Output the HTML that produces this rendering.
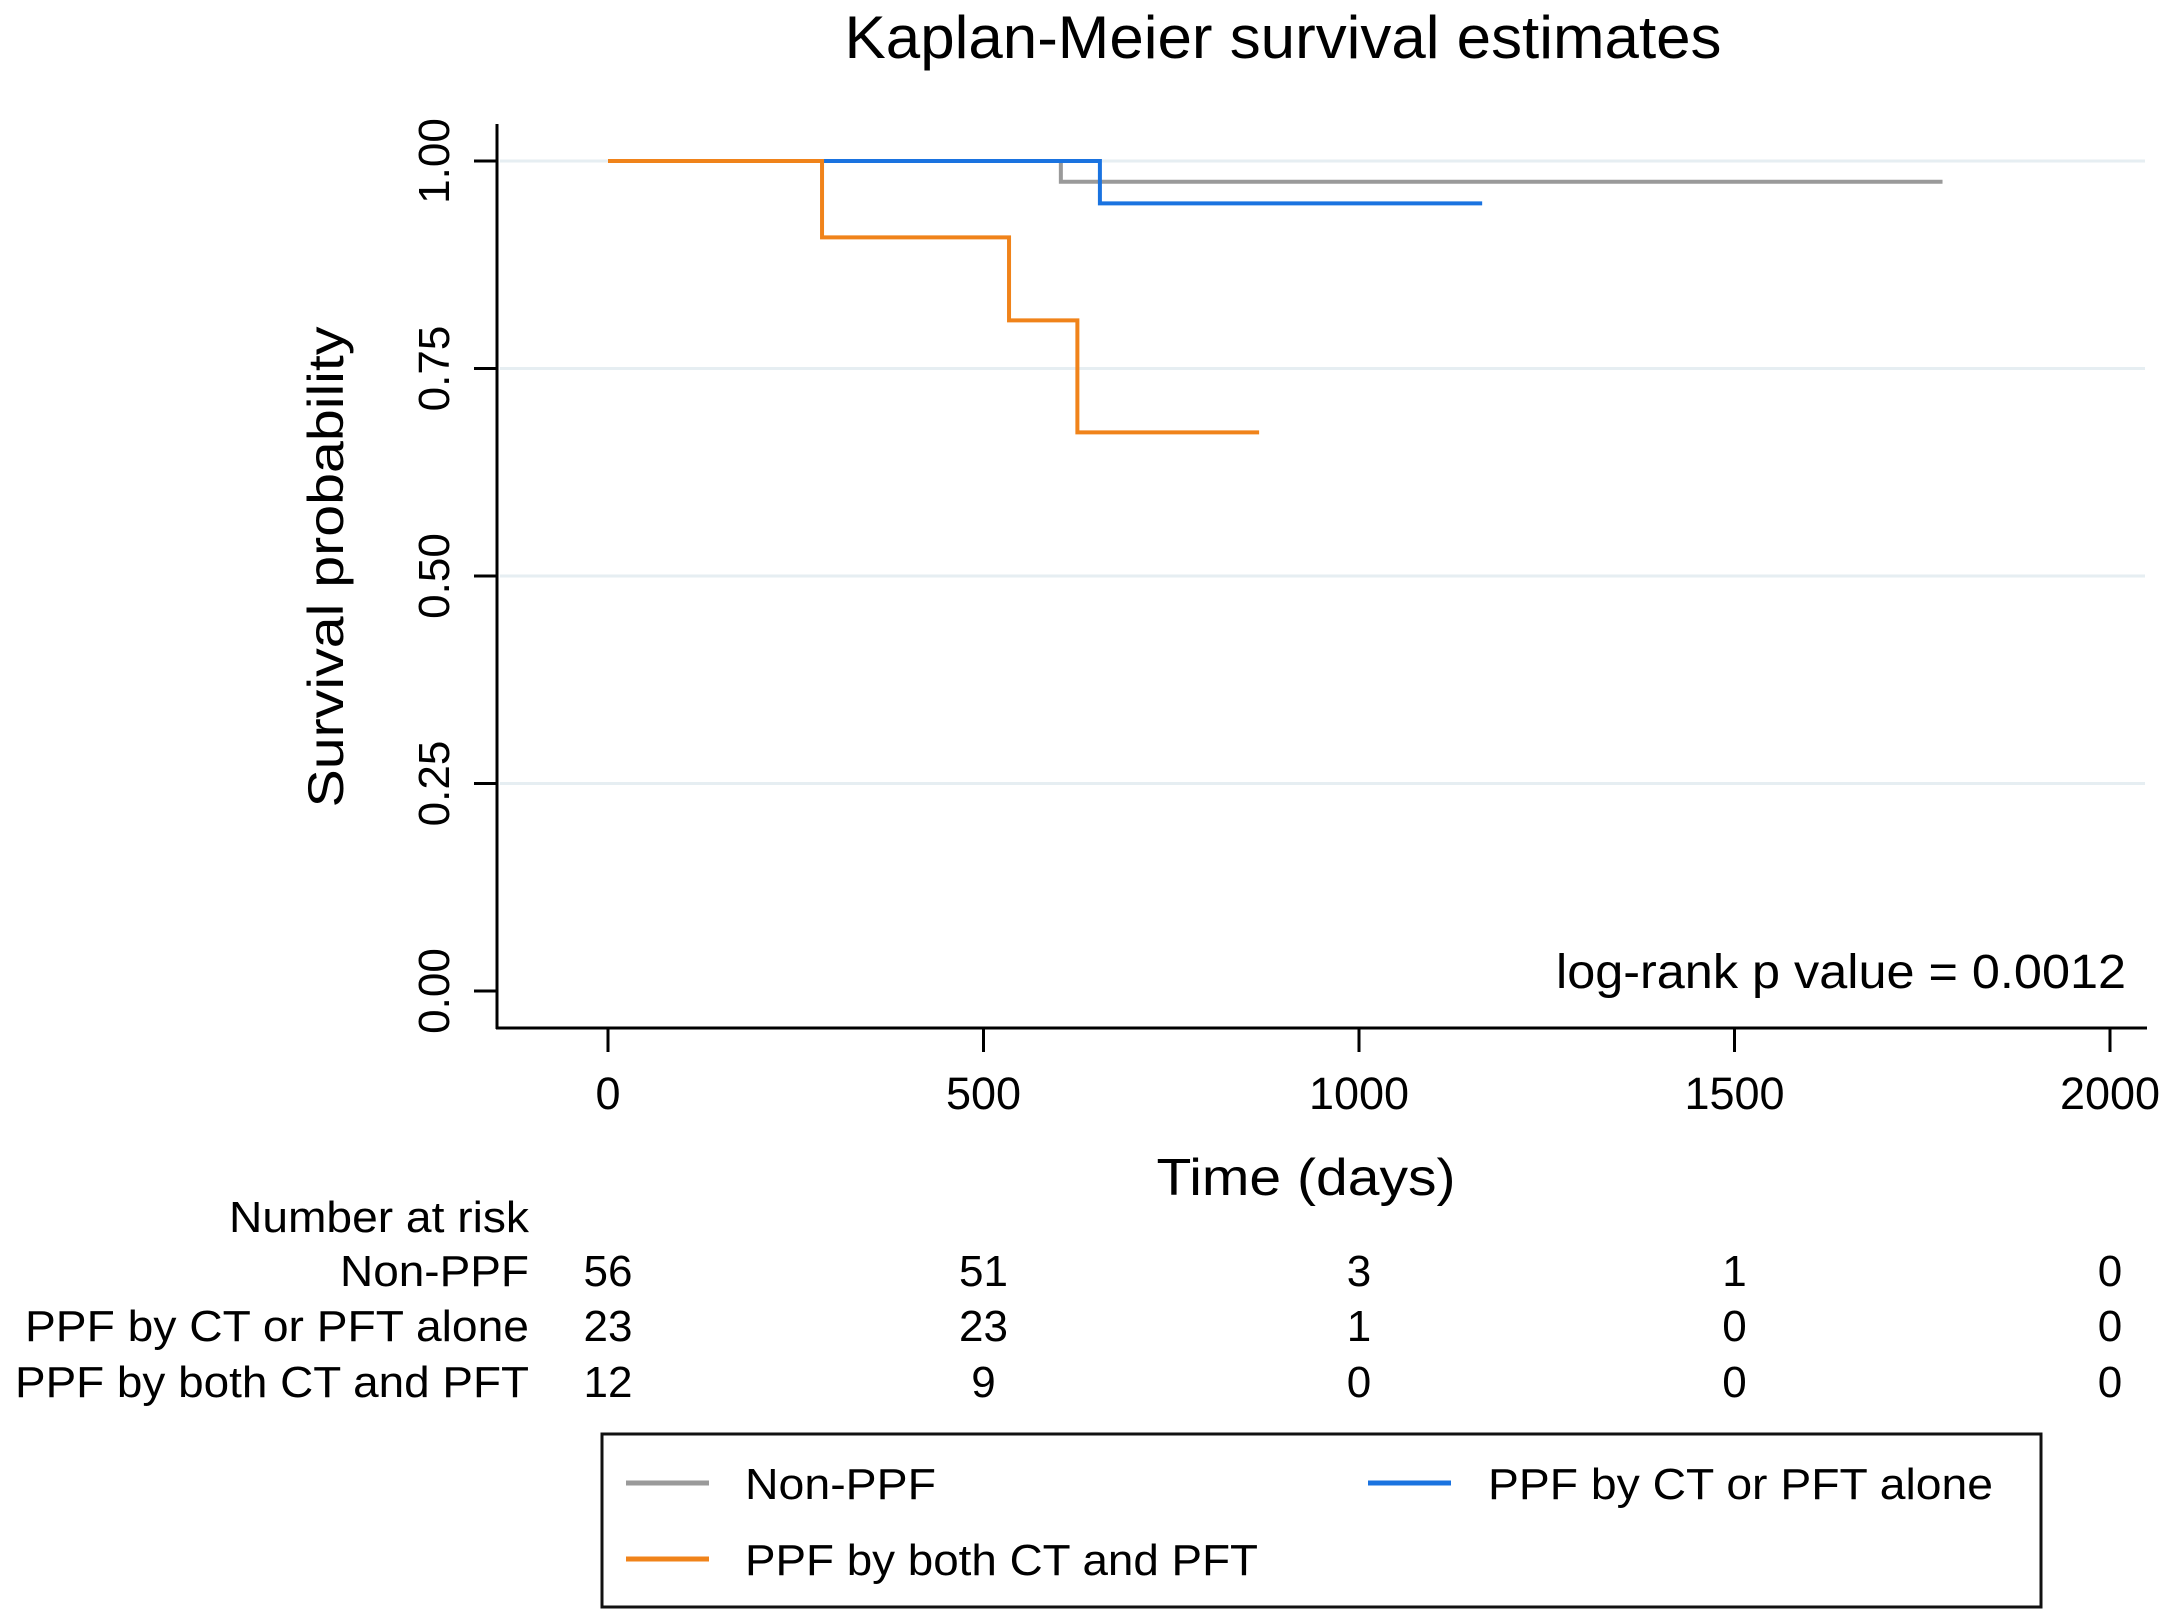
<!DOCTYPE html>
<html><head><meta charset="utf-8"><style>
html,body{margin:0;padding:0;background:#fff;}
svg{display:block;font-family:"Liberation Sans",Arial,sans-serif;}
</style></head><body>
<svg id="chart" width="2167" height="1614" viewBox="0 0 2167 1614">
<rect width="2167" height="1614" fill="#fff"/>
<text x="1283" y="58" font-size="60" text-anchor="middle" textLength="877" lengthAdjust="spacingAndGlyphs">Kaplan-Meier survival estimates</text>
<g id="grid"></g>
<g id="series"></g>
<g id="axes"></g>
<text transform="translate(343,567) rotate(-90)" font-size="50" text-anchor="middle" textLength="481" lengthAdjust="spacingAndGlyphs">Survival probability</text>
<text x="1306" y="1195" font-size="52" text-anchor="middle" textLength="299" lengthAdjust="spacingAndGlyphs">Time (days)</text>
<text x="2126" y="988" font-size="48" text-anchor="end" textLength="570" lengthAdjust="spacingAndGlyphs">log-rank p value = 0.0012</text>
<g id="risk">
<text x="529" y="1232" font-size="44" text-anchor="end" textLength="300" lengthAdjust="spacingAndGlyphs">Number at risk</text>
</g>
<g>
<rect x="602" y="1434" width="1439" height="173" fill="none" stroke="#111" stroke-width="3"/>
<line x1="626" y1="1483" x2="709" y2="1483" stroke="#9a9a9a" stroke-width="5"/>
<text x="745" y="1499" font-size="44" textLength="191" lengthAdjust="spacingAndGlyphs">Non-PPF</text>
<line x1="1368" y1="1483" x2="1451" y2="1483" stroke="#1a73e0" stroke-width="5"/>
<text x="1488" y="1499" font-size="44" textLength="505" lengthAdjust="spacingAndGlyphs">PPF by CT or PFT alone</text>
<line x1="626" y1="1559" x2="709" y2="1559" stroke="#f0831a" stroke-width="5"/>
<text x="745" y="1575" font-size="44" textLength="513" lengthAdjust="spacingAndGlyphs">PPF by both CT and PFT</text>
</g>
</svg>
<script>
const xTicks = [0, 500, 1000, 1500, 2000];
const yTicks = [0, 0.25, 0.5, 0.75, 1.0];
const yTickLabels = ["0.00", "0.25", "0.50", "0.75", "1.00"];
const seriesNames = ["Non-PPF", "PPF by CT or PFT alone", "PPF by both CT and PFT"];
const nonPpfTimes = [0, 603, 1777];
const nonPpfSurv = [1.0, 0.975, 0.975];
const ctOrPftTimes = [0, 655, 1164];
const ctOrPftSurv = [1.0, 0.949, 0.949];
const bothTimes = [0, 285, 534, 625, 867];
const bothSurv = [1.0, 0.908, 0.808, 0.673, 0.673];
const riskRowLabels = ["Non-PPF", "PPF by CT or PFT alone", "PPF by both CT and PFT"];
const riskNonPpf = [56, 51, 3, 1, 0];
const riskCtOrPft = [23, 23, 1, 0, 0];
const riskBoth = [12, 9, 0, 0, 0];

const NS = "http://www.w3.org/2000/svg";
const X = d => 608 + d * (2110 - 608) / 2000;
const Y = s => 991 - s * (991 - 161);
function mk(tag, attrs, parent) {
  const e = document.createElementNS(NS, tag);
  for (const k in attrs) e.setAttribute(k, attrs[k]);
  parent.appendChild(e);
  return e;
}
const grid = document.getElementById('grid');
yTicks.forEach(v => {
  if (v === 0) return;
  const l = mk('line', {x1: 500, x2: 2145, y1: Y(v), y2: Y(v), stroke: '#e6eef2', 'stroke-width': 3}, grid);
  
  
});
const axes = document.getElementById('axes');
let a = mk('line', {x1: 497, x2: 497, y1: 124, y2: 1029, stroke: '#000', 'stroke-width': 3}, axes);


a = mk('line', {x1: 496, x2: 2147, y1: 1028, y2: 1028, stroke: '#000', 'stroke-width': 3}, axes);


yTicks.forEach((v, i) => {
  const t = mk('line', {x1: 474, x2: 497, y1: Y(v), y2: Y(v), stroke: '#000', 'stroke-width': 3}, axes);
  
  
  const tx = mk('text', {transform: `translate(449,${Y(v)}) rotate(-90)`, 'font-size': 44, 'text-anchor': 'middle'}, axes);
  tx.textContent = yTickLabels[i];
  
  
});
xTicks.forEach(v => {
  const t = mk('line', {x1: X(v), x2: X(v), y1: 1028, y2: 1052, stroke: '#000', 'stroke-width': 3}, axes);
  
  
  const tx = mk('text', {x: X(v), y: 1109, 'font-size': 45, 'text-anchor': 'middle'}, axes);
  tx.textContent = String(v);
  
  
});
const sg = document.getElementById('series');
function stepPath(ts, ss) {
  let d = `M${X(ts[0])},${Y(ss[0])}`;
  for (let i = 1; i < ts.length; i++) d += ` H${X(ts[i])} V${Y(ss[i])}`;
  return d;
}
let p = mk('path', {d: stepPath(nonPpfTimes, nonPpfSurv), fill: 'none', stroke: '#9a9a9a', 'stroke-width': 4}, sg);


p = mk('path', {d: stepPath(ctOrPftTimes, ctOrPftSurv), fill: 'none', stroke: '#1a73e0', 'stroke-width': 4}, sg);


p = mk('path', {d: stepPath(bothTimes, bothSurv), fill: 'none', stroke: '#f0831a', 'stroke-width': 4}, sg);



const risk = document.getElementById('risk');
const rows = [riskNonPpf, riskCtOrPft, riskBoth];
const rowY = [1286, 1341, 1397];
const rowW = [189, 504, 514];
rows.forEach((vals, r) => {
  const lb = mk('text', {x: 529, y: rowY[r], 'font-size': 44, 'text-anchor': 'end', textLength: rowW[r], lengthAdjust: 'spacingAndGlyphs'}, risk);
  lb.textContent = riskRowLabels[r];
  
  
  vals.forEach((v, i) => {
    const t = mk('text', {x: X(xTicks[i]), y: rowY[r], 'font-size': 44, 'text-anchor': 'middle'}, risk);
    t.textContent = String(v);
    
    
  });
});
</script>
</body></html>
